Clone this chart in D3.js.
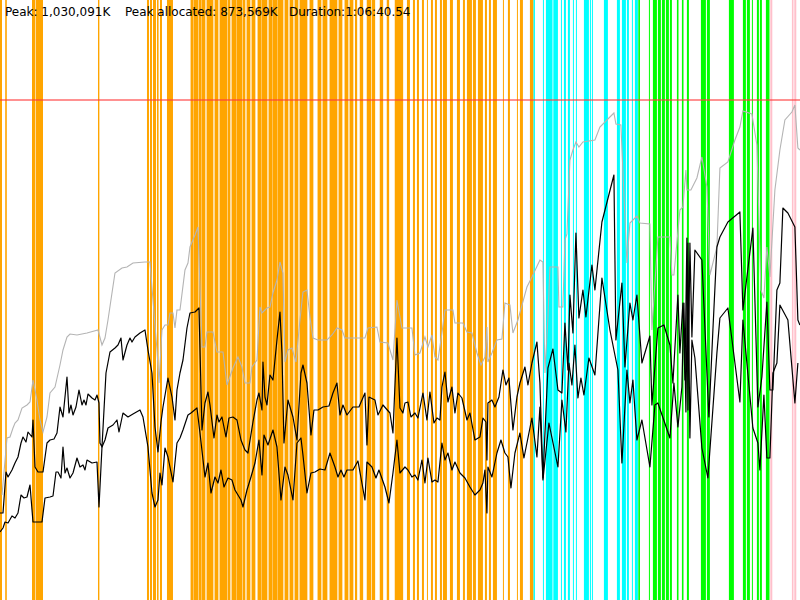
<!DOCTYPE html>
<html><head><meta charset="utf-8">
<script src="https://cdn.jsdelivr.net/npm/d3@7"></script>
<style>body{margin:0;background:#fff;overflow:hidden}</style>
</head><body>
<svg id="chart" width="800" height="600"></svg>
<script>
// ---- data (time in seconds, memory in MB) ----
const durationSec = 4000.54;
const limitMB = 1000;
const headerTexts = ["Peak: 1,030,091K", "Peak allocated: 873,569K", "Duration:1:06:40.54"];
const headerX = [5, 125, 289]; // label anchor positions (px)

const orangeBands = [[0,10],[26,34],[160,175],[178,215],[490,497],[735,745],[750,760],[765,780],[785,793],[800,810],[835,865],[953,967],[968,992],[994,1007],[1008,1027],[1033,1067],[1073,1092],[1098,1137],[1139,1152],[1158,1182],[1183,1212],[1214,1227],[1233,1252],[1258,1277],[1288,1307],[1308,1337],[1343,1362],[1363,1387],[1388,1417],[1423,1442],[1448,1467],[1473,1492],[1498,1537],[1548,1567],[1588,1607],[1613,1637],[1648,1687],[1693,1712],[1723,1742],[1748,1767],[1775,1786],[1799,1816],[1834,1856],[1859,1876],[1899,1916],[1934,1946],[1974,2016],[2035,2050],[2065,2075],[2085,2095],[2110,2120],[2135,2140],[2155,2165],[2175,2185],[2200,2210],[2215,2235],[2250,2265],[2285,2300],[2315,2325],[2335,2360],[2365,2380],[2390,2415],[2425,2435],[2445,2455],[2465,2485],[2515,2520],[2540,2550],[2585,2590],[2600,2615],[2650,2668]];
const cyanBands = [[2668,2675],[2715,2720],[2730,2763],[2767,2790],[2805,2810],[2820,2830],[2840,2850],[2865,2870],[2880,2885],[2920,2945],[2950,2955],[2960,2965],[3020,3040],[3085,3100],[3110,3130],[3135,3145],[3160,3165],[3175,3190]];
const greenBands = [[3192,3200],[3245,3250],[3265,3285],[3290,3305],[3310,3325],[3330,3345],[3350,3360],[3385,3393],[3410,3418],[3435,3445],[3505,3530],[3535,3550],[3645,3670],[3715,3730],[3735,3750],[3760,3765],[3785,3795],[3800,3810],[3830,3848]];
const pinkBands = [[3852,3862],[3960,3968],[3972,3982]];

const heapSize = [[10,210],[35,324],[50,326],[65,344],[75,354],[90,360],[110,384],[135,390],[150,396],[165,440],[185,400],[200,360],[215,336],[235,366],[250,414],[275,426],[300,470],[315,500],[335,526],[350,532],[385,530],[435,534],[490,540],[510,510],[525,524],[540,560],[560,614],[575,654],[610,664],[635,666],[665,674],[725,676],[750,676],[765,600],[785,500],[795,434],[810,540],[825,550],[840,550],[850,574],[865,574],[875,544],[885,580],[900,580],[925,660],[940,674],[950,706],[975,730],[990,746],[1010,506],[1025,506],[1035,536],[1065,536],[1085,496],[1115,496],[1135,430],[1165,464],[1190,486],[1210,466],[1225,434],[1250,434],[1260,466],[1285,480],[1300,586],[1310,574],[1335,584],[1350,586],[1365,614],[1385,640],[1400,676],[1415,654],[1425,476],[1440,500],[1460,504],[1480,476],[1500,560],[1515,616],[1535,620],[1550,566],[1565,524],[1590,520],[1635,520],[1660,530],[1685,544],[1710,540],[1725,524],[1825,524],[1840,544],[1885,546],[1900,516],[1940,514],[1965,480],[1985,600],[2010,544],[2060,544],[2075,490],[2100,494],[2125,526],[2140,506],[2160,530],[2175,486],[2190,480],[2210,534],[2225,580],[2265,580],[2275,554],[2315,554],[2335,536],[2360,534],[2385,494],[2405,470],[2425,486],[2435,546],[2440,476],[2460,494],[2485,520],[2510,522],[2525,594],[2550,590],[2565,534],[2590,560],[2635,626],[2660,646],[2700,680],[2715,676],[2725,454],[2740,564],[2750,666],[2790,666],[2795,586],[2815,586],[2825,720],[2835,732],[2850,880],[2865,900],[2880,916],[2895,906],[2915,916],[2975,920],[3000,946],[3035,960],[3070,974],[3080,952],[3105,950],[3135,674],[3150,754],[3185,768],[3200,754],[3250,752],[3260,540],[3290,726],[3350,726],[3360,650],[3370,650],[3400,780],[3415,786],[3430,860],[3435,820],[3455,820],[3485,844],[3510,886],[3535,826],[3550,650],[3585,706],[3600,864],[3640,876],[3675,920],[3700,946],[3715,978],[3760,972],[3785,910],[3805,620],[3820,604],[3835,706],[3850,646],[3875,820],[3900,900],[3925,960],[3960,976],[3975,990],[3990,904],[4000,900]];

const usedBefore = [[0,174],[15,174],[30,256],[40,246],[60,260],[75,274],[90,286],[105,314],[115,326],[130,316],[140,336],[160,326],[165,360],[175,266],[190,256],[215,256],[235,314],[250,320],[270,322],[285,334],[300,386],[315,366],[335,446],[345,374],[355,390],[365,370],[380,386],[395,420],[410,390],[420,400],[430,390],[440,412],[460,404],[475,400],[485,410],[495,394],[500,314],[510,306],[530,454],[550,496],[575,504],[590,510],[605,524],[615,480],[635,510],[650,524],[660,516],[675,526],[700,534],[725,540],[740,500],[760,454],[775,346],[790,296],[805,356],[815,386],[840,444],[860,406],[875,360],[885,420],[900,454],[915,480],[935,544],[950,574],[975,576],[995,584],[1010,340],[1025,394],[1040,416],[1050,390],[1070,324],[1085,370],[1095,356],[1110,366],[1130,326],[1145,364],[1165,366],[1185,360],[1205,320],[1225,300],[1240,294],[1265,356],[1285,400],[1295,414],[1310,380],[1315,476],[1325,406],[1335,390],[1350,450],[1365,440],[1385,520],[1400,576],[1410,494],[1420,314],[1440,400],[1465,366],[1485,320],[1505,454],[1515,470],[1535,434],[1555,330],[1570,380],[1590,380],[1615,386],[1645,388],[1665,414],[1685,434],[1700,370],[1715,390],[1735,370],[1765,386],[1795,386],[1825,414],[1835,310],[1845,406],[1875,400],[1890,370],[1915,390],[1950,374],[1965,334],[1985,524],[2000,384],[2015,374],[2025,394],[2040,396],[2055,366],[2075,374],[2090,364],[2115,414],[2135,360],[2150,416],[2170,354],[2185,364],[2200,360],[2210,426],[2225,456],[2240,396],[2260,426],[2275,374],[2290,414],[2310,404],[2335,360],[2350,374],[2375,320],[2400,326],[2415,364],[2430,356],[2435,280],[2440,394],[2460,400],[2475,386],[2495,406],[2515,460],[2530,430],[2545,444],[2565,340],[2585,406],[2600,434],[2625,466],[2640,430],[2660,474],[2685,516],[2700,434],[2715,244],[2740,464],[2765,502],[2790,420],[2810,414],[2825,554],[2840,460],[2850,610],[2865,534],[2880,734],[2895,564],[2915,620],[2930,566],[2960,670],[2975,620],[3010,756],[3070,850],[3080,520],[3110,634],[3125,466],[3150,594],[3165,560],[3185,610],[3210,474],[3250,528],[3260,390],[3290,544],[3320,550],[3350,510],[3365,434],[3390,610],[3400,494],[3415,594],[3425,440],[3435,724],[3440,380],[3450,714],[3460,526],[3475,700],[3510,680],[3545,366],[3565,540],[3585,706],[3600,726],[3640,756],[3700,776],[3715,580],[3765,744],[3790,386],[3810,446],[3835,596],[3850,420],[3865,420],[3885,620],[3900,634],[3915,784],[3940,774],[3975,746],[3990,560],[4000,550]];

const usedAfter = [[0,136],[15,144],[25,156],[40,154],[60,168],[75,164],[90,174],[105,210],[120,204],[135,206],[150,230],[165,156],[210,156],[225,204],[250,206],[265,208],[280,256],[290,256],[305,244],[315,306],[325,254],[335,264],[350,244],[365,254],[385,284],[400,266],[415,270],[425,260],[435,280],[460,274],[485,276],[495,186],[510,306],[525,320],[540,344],[565,350],[585,360],[595,336],[615,374],[640,366],[665,372],[700,380],[715,366],[740,306],[760,214],[775,186],[790,200],[800,254],[810,230],[825,304],[840,286],[850,266],[865,236],[885,314],[900,324],[915,340],[940,370],[955,374],[985,384],[1000,334],[1025,246],[1040,274],[1055,214],[1075,246],[1090,234],[1105,260],[1120,226],[1140,244],[1160,240],[1175,220],[1205,200],[1215,186],[1235,220],[1255,246],[1275,274],[1295,320],[1310,250],[1320,330],[1340,310],[1365,340],[1385,306],[1405,200],[1425,266],[1440,250],[1465,200],[1485,314],[1505,324],[1515,290],[1535,214],[1555,254],[1575,256],[1600,262],[1625,260],[1650,294],[1675,266],[1690,246],[1705,260],[1720,246],[1735,260],[1765,260],[1790,278],[1825,200],[1835,276],[1860,266],[1880,244],[1895,260],[1925,226],[1945,194],[1965,254],[1985,320],[2000,254],[2025,266],[2040,260],[2060,246],[2075,250],[2090,240],[2110,280],[2125,234],[2140,284],[2160,236],[2175,240],[2190,236],[2210,314],[2225,280],[2240,294],[2260,260],[2275,276],[2300,254],[2325,244],[2350,226],[2375,210],[2400,220],[2415,234],[2425,260],[2435,174],[2440,266],[2460,246],[2485,294],[2505,320],[2525,294],[2540,286],[2555,224],[2575,294],[2600,334],[2620,284],[2660,364],[2685,286],[2700,386],[2715,240],[2745,354],[2790,266],[2810,400],[2830,336],[2845,474],[2860,430],[2875,510],[2890,404],[2905,444],[2920,410],[2945,484],[2975,450],[3010,644],[3050,540],[3090,460],[3110,274],[3135,460],[3150,394],[3165,440],[3185,320],[3210,360],[3250,266],[3275,390],[3290,394],[3350,324],[3370,434],[3390,346],[3410,426],[3420,594],[3430,376],[3440,714],[3450,324],[3460,520],[3475,484],[3510,304],[3540,244],[3585,494],[3600,564],[3640,584],[3700,396],[3715,560],[3765,344],[3790,314],[3800,260],[3820,410],[3835,284],[3850,284],[3865,454],[3885,474],[3900,590],[3940,560],[3975,394],[3990,474]];

// ---- drawing ----
const W = 800, H = 600;
const svg = d3.select("#chart");
const x = d3.scaleLinear().domain([0, durationSec]).range([0, W]);
const y = d3.scaleLinear().domain([0, 1200]).range([H, 0]);

const bandSets = [
  {data: orangeBands, color: "#FFA500"},
  {data: cyanBands, color: "#00FFFF"},
  {data: greenBands, color: "#00FF00"},
  {data: pinkBands, color: "#FFC0CB"}
];
const gBands = svg.append("g");
bandSets.forEach(s => {
  gBands.selectAll(null).data(s.data).enter().append("rect")
    .attr("x", d => x(d[0]))
    .attr("width", d => Math.max(1, x(d[1]) - x(d[0])))
    .attr("y", 0).attr("height", H)
    .attr("fill", s.color);
});

svg.append("line")
  .attr("x1", 0).attr("x2", W)
  .attr("y1", y(limitMB)).attr("y2", y(limitMB))
  .attr("stroke", "#ff3b3b").attr("stroke-opacity", 0.75).attr("stroke-width", 1.5);

const line = d3.line().x(d => x(d[0])).y(d => y(d[1]));
svg.append("path").datum(heapSize).attr("d", line)
  .attr("fill", "none").attr("stroke", "#b4b4b4").attr("stroke-width", 1.1);
svg.append("path").datum(usedBefore).attr("d", line)
  .attr("fill", "none").attr("stroke", "#000").attr("stroke-width", 1.2).attr("stroke-linejoin", "round");
svg.append("path").datum(usedAfter).attr("d", line)
  .attr("fill", "none").attr("stroke", "#000").attr("stroke-width", 1.2).attr("stroke-linejoin", "round");

svg.selectAll("text.hdr").data(headerTexts).enter().append("text")
  .attr("class", "hdr")
  .attr("x", (d, i) => headerX[i]).attr("y", 16)
  .attr("font-family", "'DejaVu Sans', sans-serif").attr("font-size", 12)
  .attr("fill", "#000")
  .text(d => d);
</script>
</body></html>
